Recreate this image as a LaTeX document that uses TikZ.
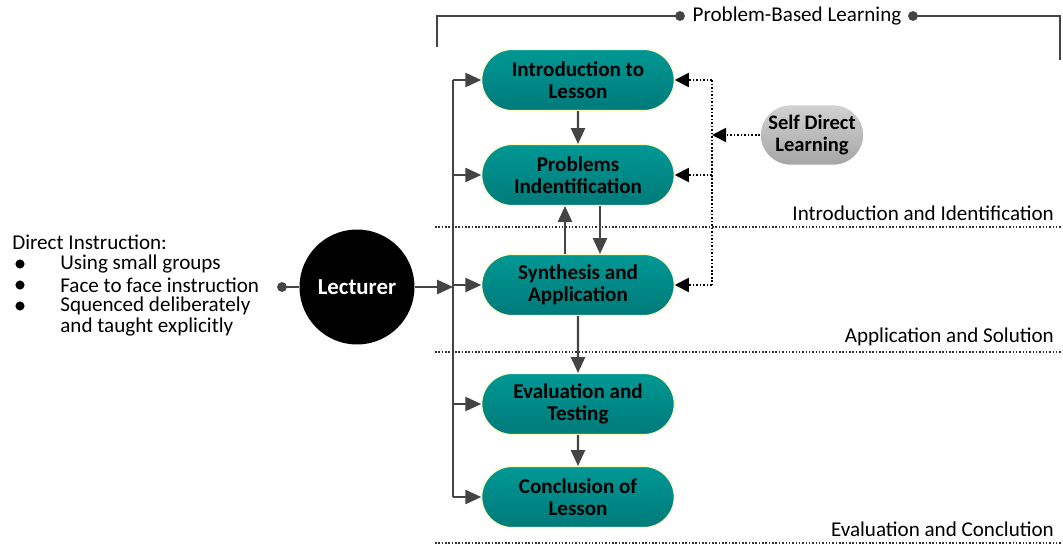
\documentclass[tikz,border=0pt]{standalone}
\usepackage{fontspec}
\setmainfont{Carlito}
\usetikzlibrary{positioning,arrows.meta,shapes.misc}

\definecolor{tealtop}{RGB}{0,152,148}
\definecolor{tealbot}{RGB}{0,122,122}
\definecolor{linegrey}{RGB}{68,68,68}

\tikzset{
  stage/.style={rounded rectangle,draw=yellow!25!white,line width=0.6pt,
    top color=tealtop,bottom color=tealbot,minimum width=3.92cm,minimum height=1.22cm,
    align=center,font=\fontsize{12}{12.5}\selectfont\bfseries,inner sep=1pt},
  link/.style={linegrey,line width=1.2pt},
  arr/.style={link,-{Triangle[length=9pt,width=8pt]}},
  dotarr/.style={black,line width=1pt,densely dotted,-{Triangle[length=8pt,width=8pt]}},
  divider/.style={black!80,line width=0.9pt,densely dotted},
  phase/.style={font=\fontsize{12}{13}\selectfont,inner sep=1pt,anchor=south east},
  bullet/.style={font=\fontsize{12}{13}\selectfont,anchor=west,inner sep=0pt}
}

\begin{document}
\begin{tikzpicture}[x=0.02cm,y=-0.02cm]
\useasboundingbox (0,0) rectangle (1063,544);

% stages of the lesson
\foreach \n/\y/\txt in {intro/80/{Introduction to\\Lesson},prob/175/{Problems\\Indentification},
  synt/285/{Synthesis and\\Application},eval/404/{Evaluation and\\Testing},conc/497/{Conclusion of\\Lesson}}
  \node[stage] (\n) at (578,\y) {\txt};

\node[circle,fill=black,minimum size=2.3cm,text=white,font=\fontsize{13}{15}\selectfont\bfseries] (lect) at (357,287) {Lecturer};
\node[rounded rectangle,draw=white,top color=black!18,bottom color=black!35,minimum width=2.3cm,minimum height=1.2cm,
  align=center,font=\fontsize{11.7}{12.5}\selectfont\bfseries] (sdl) at (812,135) {Self Direct\\Learning};

% lecturer bus
\coordinate (bus) at (453,287);
\coordinate (ldot) at (282,287);
\draw[arr] (lect) -- (bus);
\draw[link] (ldot) -- (lect.west);
\fill[linegrey] (ldot) circle (2.8pt);
\draw[link] (bus |- intro) -- (bus |- conc);
\foreach \n in {intro,prob,synt,eval,conc}
  \draw[arr] (bus |- \n) -- (\n.west);

% flow between stages
\draw[arr] (intro) -- (prob);
\draw[arr] ([xshift=0.44cm]prob.south) -- ([xshift=0.44cm]synt.north);
\draw[arr] ([xshift=-0.26cm]synt.north) -- ([xshift=-0.26cm]prob.south);
\draw[arr] (synt) -- (eval);
\draw[arr] (eval) -- (conc);

% self direct learning
\coordinate (dv) at (712,135);
\draw[black,line width=1pt,densely dotted] (dv |- intro) -- (dv |- synt);
\foreach \n in {intro,prob,synt}
  \draw[dotarr] (dv |- \n) -- (\n.east);
\draw[dotarr] (sdl.west) -- (dv);

% phases
\foreach \y/\txt [count=\k] in {227/Introduction and Identification,352/Application and Solution,543/Evaluation and Conclution}{
  \draw[divider] (435,\y) -- (1063,\y);
  \node[phase] (ph\k) at (1056,\y-4) {\txt};
}

% problem-based learning bracket
\node[font=\fontsize{12}{13}\selectfont,inner sep=1pt] (pbl) at (797,16) {Problem-Based Learning};
\coordinate (pl) at (680,16);
\coordinate (pr) at (913,16);
\draw[link] (437,47) |- (pl);
\draw[link] (pr) -| (1060,60);
\fill[linegrey] (pl) circle (2.8pt) (pr) circle (2.8pt);

% direct instruction
\node[bullet] (di) at (12,242) {Direct Instruction:};
\foreach \y/\txt/\b [count=\k] in {264/Using small groups/1,285/Face to face instruction/1,306/Squenced deliberately/1,327/and taught explicitly/0}{
  \node[bullet] (it\k) at (60,\y) {\txt};
  \ifnum\b=1 \fill (20,\y) circle (2.6pt); \fi
}
\end{tikzpicture}
\end{document}
